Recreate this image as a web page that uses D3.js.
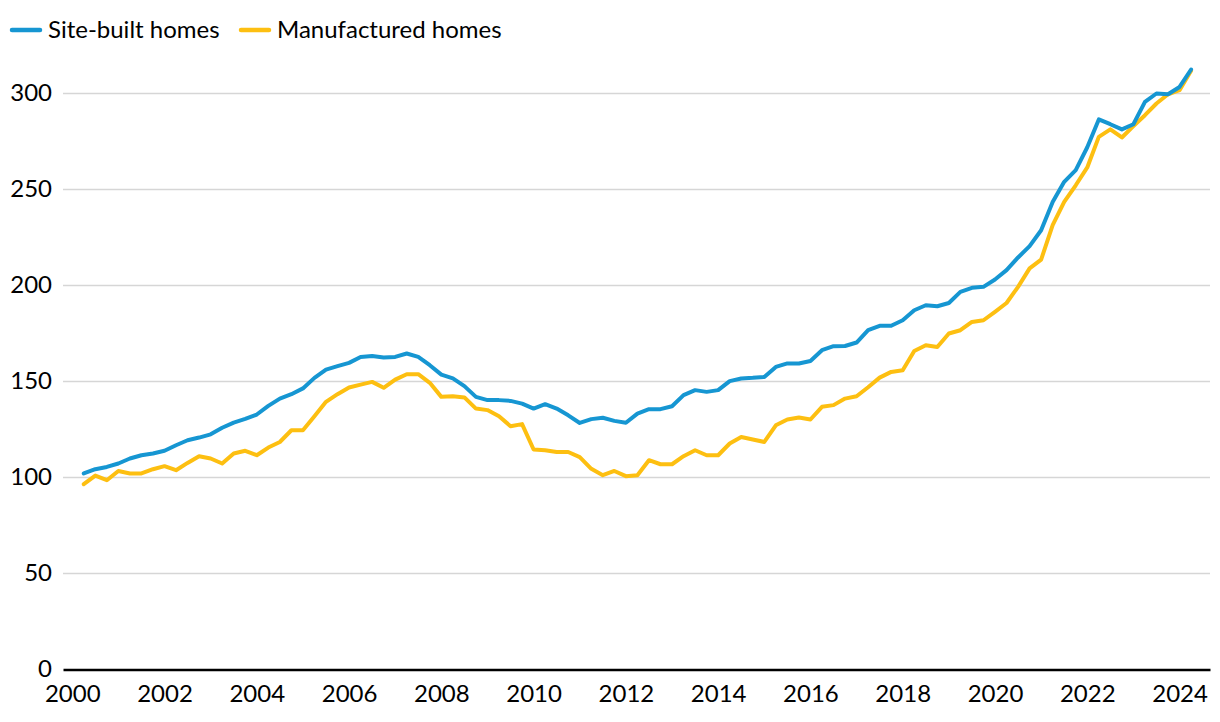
<!DOCTYPE html>
<html>
<head>
<meta charset="utf-8">
<script src="https://cdn.jsdelivr.net/npm/d3@7"></script>
<style>
  html, body { margin: 0; padding: 0; background: #fff; }
  svg { display: block; font-family: Lato, "Open Sans", sans-serif; }
</style>
</head>
<body>
<svg id="chart" width="1220" height="722"></svg>
<script>
// Quarterly index, 2000Q1 .. 2024Q1
const startYear = 2000;
const siteBuilt = [
  102.1, 104.3, 105.5, 107.3, 109.9, 111.6, 112.5, 113.9, 116.8, 119.4,
  120.8, 122.5, 125.9, 128.6, 130.5, 132.8, 137.3, 141.1, 143.4, 146.4,
  151.9, 156.2, 158.0, 159.7, 162.8, 163.3, 162.5, 162.8, 164.6, 162.8,
  158.5, 153.6, 151.6, 147.6, 142.0, 140.3, 140.3, 139.9, 138.5, 135.9,
  138.2, 135.9, 132.4, 128.4, 130.4, 131.1, 129.5, 128.5, 133.3, 135.6,
  135.6, 137.1, 142.9, 145.5, 144.6, 145.5, 150.2, 151.6, 151.9, 152.4,
  157.6, 159.4, 159.4, 160.7, 166.3, 168.4, 168.5, 170.3, 176.7, 179.0,
  179.0, 181.9, 187.1, 189.7, 189.2, 190.9, 196.7, 198.8, 199.3, 203.1,
  208.0, 214.6, 220.5, 228.8, 243.5, 254.0, 260.1, 272.0, 286.5, 284.0,
  281.3, 284.0, 295.6, 300.0, 299.6, 303.4, 312.5
];
const manufactured = [
  96.5, 101.0, 98.6, 103.4, 102.1, 102.1, 104.3, 105.9, 103.8, 107.6,
  111.1, 109.9, 107.3, 112.5, 113.9, 111.6, 115.6, 118.5, 124.6, 124.6,
  131.9, 139.4, 143.4, 146.9, 148.4, 149.8, 146.7, 151.0, 153.8, 153.8,
  149.3, 142.0, 142.3, 141.7, 135.9, 135.1, 131.9, 126.7, 127.8, 114.6,
  114.2, 113.3, 113.3, 110.6, 104.5, 101.2, 103.4, 100.7, 101.2, 109.0,
  106.9, 106.9, 111.1, 114.2, 111.6, 111.6, 117.7, 121.1, 119.8, 118.5,
  127.2, 130.2, 131.2, 130.2, 136.8, 137.7, 141.1, 142.3, 147.0, 152.0,
  155.0, 155.9, 165.9, 168.9, 168.0, 175.0, 176.7, 181.0, 181.9, 186.3,
  190.9, 199.3, 208.9, 213.5, 231.4, 243.5, 252.2, 261.5, 277.4, 281.3,
  277.1, 283.0, 288.7, 294.8, 299.6, 301.7, 311.8
];
const xTicks = [2000, 2002, 2004, 2006, 2008, 2010, 2012, 2014, 2016, 2018, 2020, 2022, 2024];
const yTicks = [0, 50, 100, 150, 200, 250, 300];
const seriesNames = ["Site-built homes", "Manufactured homes"];
const seriesColors = ["#1696d2", "#fdbf11"];

(function () {
const svg = d3.select("#chart");
const mLeft = 63, mRight = 1210, mTop = 93.5, mBottom = 669.5;
const fs = 24;

// quarter i plotted at quarter end
const tOf = i => startYear + (i + 1) / 4;

const x = d3.scaleLinear().domain([1999.8, 2024.66]).range([mLeft, mRight]);
const y = d3.scaleLinear().domain([0, 300]).range([mBottom, mTop]);

// gridlines
svg.append("g")
  .selectAll("line")
  .data(yTicks.filter(d => d !== 0))
  .join("line")
  .attr("x1", mLeft).attr("x2", mRight)
  .attr("y1", d => y(d)).attr("y2", d => y(d))
  .attr("stroke", "#d6d6d6").attr("stroke-width", 1.5);

// y labels
svg.append("g")
  .selectAll("text")
  .data(yTicks)
  .join("text")
  .attr("x", 52)
  .attr("y", d => y(d))
  .attr("dy", "0.32em")
  .attr("text-anchor", "end")
  .attr("font-size", fs)
  .attr("fill", "#000")
  .text(d => d);

// x axis
const xAxis = d3.axisBottom(x).tickValues(xTicks).tickFormat(d3.format("d")).tickSize(0).tickPadding(15);
const gx = svg.append("g").attr("transform", `translate(0,${mBottom})`).call(xAxis);
gx.select(".domain").attr("stroke", "#000").attr("stroke-width", 2.5);
gx.selectAll("text").attr("font-size", fs).attr("fill", "#000").attr("font-family", "Lato, sans-serif");

// lines: manufactured first, site-built on top
const line = d3.line().x((d, i) => x(tOf(i))).y(d => y(d));
[[manufactured, seriesColors[1]], [siteBuilt, seriesColors[0]]].forEach(([s, c]) => {
  svg.append("path")
    .datum(s)
    .attr("fill", "none")
    .attr("stroke", c)
    .attr("stroke-width", 4)
    .attr("stroke-linejoin", "round")
    .attr("stroke-linecap", "round")
    .attr("d", line);
});

// legend
const legendX = [12, 241];
const lg = svg.append("g");
seriesNames.forEach((n, k) => {
  lg.append("line")
    .attr("x1", legendX[k]).attr("x2", legendX[k] + 28)
    .attr("y1", 30).attr("y2", 30)
    .attr("stroke", seriesColors[k]).attr("stroke-width", 4.5)
    .attr("stroke-linecap", "round");
  lg.append("text")
    .attr("x", legendX[k] + 36).attr("y", 30).attr("dy", "0.35em")
    .attr("font-size", fs).attr("fill", "#000")
    .text(n);
});
})();
</script>
</body>
</html>
